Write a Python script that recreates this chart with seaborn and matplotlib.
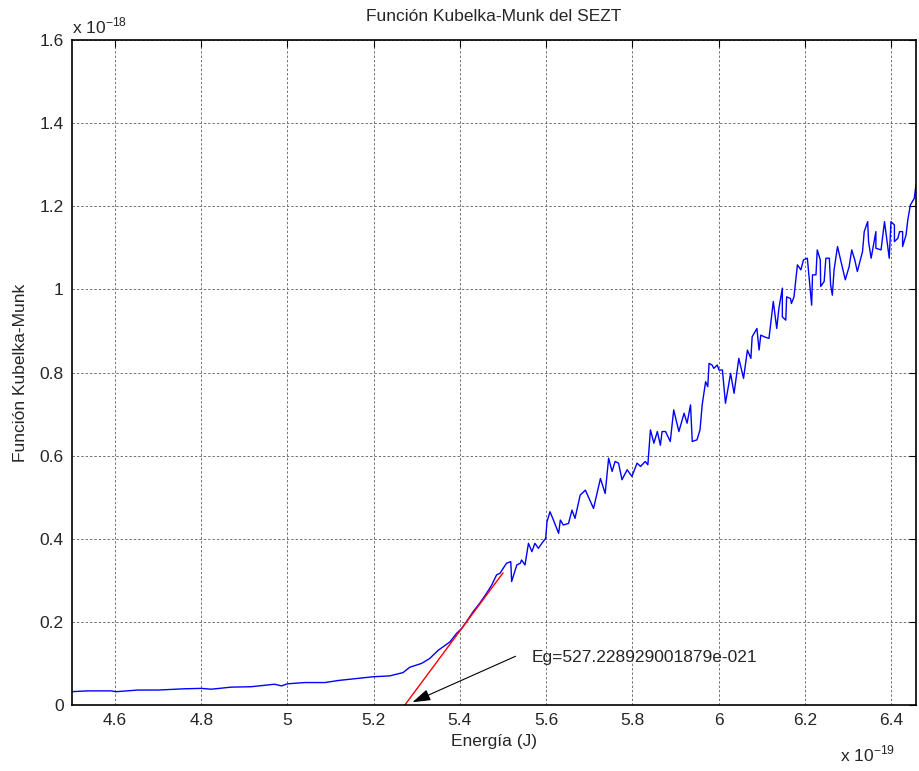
import numpy as np
import pandas as pd
import seaborn as sns
import matplotlib.pyplot as plt
from matplotlib.ticker import FuncFormatter

# energy in units of 1e-19 J, Kubelka-Munk in units of 1e-18
energia = [4.498, 4.537, 4.591, 4.602, 4.653, 4.700, 4.761, 4.800, 4.823, 4.870,
           4.916, 4.970, 4.986, 5.000, 5.040, 5.087, 5.118, 5.164, 5.199, 5.237,
           5.268, 5.284, 5.311, 5.330, 5.350, 5.361, 5.377, 5.392, 5.404, 5.415,
           5.431, 5.446, 5.462, 5.474, 5.485, 5.493, 5.508, 5.518, 5.520, 5.532,
           5.540, 5.543, 5.551, 5.559, 5.567, 5.574, 5.582, 5.590, 5.599, 5.602,
           5.609, 5.617, 5.629, 5.633, 5.640, 5.652, 5.660, 5.667, 5.679, 5.691,
           5.698, 5.710, 5.726, 5.737, 5.745, 5.753, 5.760, 5.768, 5.776, 5.788,
           5.799, 5.811, 5.819, 5.830, 5.836, 5.842, 5.850, 5.858, 5.865, 5.869,
           5.877, 5.888, 5.896, 5.908, 5.920, 5.927, 5.935, 5.939, 5.950, 5.957,
           5.962, 5.970, 5.975, 5.978, 5.985, 5.989, 5.997, 6.001, 6.009, 6.016,
           6.028, 6.036, 6.047, 6.058, 6.067, 6.075, 6.078, 6.089, 6.094, 6.098,
           6.106, 6.117, 6.127, 6.135, 6.140, 6.148, 6.148, 6.156, 6.158, 6.167,
           6.169, 6.175, 6.183, 6.191, 6.197, 6.206, 6.216, 6.218, 6.226, 6.229,
           6.236, 6.237, 6.245, 6.249, 6.257, 6.260, 6.264, 6.268, 6.276, 6.284,
           6.294, 6.303, 6.309, 6.316, 6.322, 6.334, 6.338, 6.346, 6.348, 6.354,
           6.365, 6.365, 6.377, 6.385, 6.396, 6.400, 6.408, 6.408, 6.416, 6.420,
           6.427, 6.427, 6.435, 6.439, 6.445, 6.454, 6.458]
km = [0.032, 0.034, 0.034, 0.032, 0.036, 0.036, 0.039, 0.040, 0.038, 0.043,
      0.044, 0.050, 0.046, 0.051, 0.054, 0.054, 0.059, 0.064, 0.068, 0.070,
      0.078, 0.091, 0.100, 0.112, 0.132, 0.140, 0.152, 0.172, 0.184, 0.200,
      0.225, 0.245, 0.269, 0.289, 0.313, 0.317, 0.341, 0.345, 0.297, 0.337,
      0.341, 0.349, 0.337, 0.389, 0.369, 0.389, 0.377, 0.389, 0.401, 0.441,
      0.465, 0.445, 0.413, 0.445, 0.433, 0.437, 0.469, 0.449, 0.505, 0.517,
      0.501, 0.473, 0.545, 0.509, 0.594, 0.562, 0.586, 0.582, 0.542, 0.566,
      0.550, 0.582, 0.574, 0.586, 0.578, 0.662, 0.630, 0.658, 0.625, 0.658,
      0.658, 0.634, 0.710, 0.658, 0.702, 0.678, 0.722, 0.634, 0.638, 0.662,
      0.722, 0.778, 0.766, 0.822, 0.818, 0.810, 0.818, 0.806, 0.806, 0.726,
      0.798, 0.750, 0.834, 0.786, 0.854, 0.834, 0.886, 0.906, 0.854, 0.890,
      0.886, 0.882, 0.971, 0.906, 0.954, 1.003, 0.934, 0.926, 0.982, 0.978,
      0.966, 0.982, 1.059, 1.047, 1.071, 1.075, 0.962, 1.035, 1.035, 1.095,
      1.071, 1.007, 1.019, 1.075, 1.075, 1.011, 0.986, 1.047, 1.103, 1.067,
      1.023, 1.055, 1.095, 1.071, 1.043, 1.091, 1.139, 1.163, 1.115, 1.075,
      1.139, 1.099, 1.095, 1.163, 1.075, 1.163, 1.155, 1.115, 1.123, 1.139,
      1.139, 1.103, 1.131, 1.167, 1.203, 1.219, 1.251]

# linear fit used for the band gap
ajuste_x = [5.2723, 5.50]
ajuste_y = [0.0, 0.318]
eg_label = 'Eg=527.228929001879e-021'

sns.set_style('white')
plt.rcParams['font.family'] = ['Liberation Sans', 'DejaVu Sans']
plt.rcParams['mathtext.fontset'] = 'custom'
plt.rcParams['mathtext.rm'] = 'Liberation Sans'
fs = 12.5

fig = plt.figure(figsize=(9.19, 7.71), dpi=100)
ax = fig.add_axes([0.0783, 0.0856, 0.9184, 0.8625])

df = pd.DataFrame({'E': energia, 'F': km})
sns.lineplot(data=df, x='E', y='F', sort=False, estimator=None, color='b', lw=1, ax=ax)
sns.lineplot(x=ajuste_x, y=ajuste_y, sort=False, estimator=None, color='r', lw=1, ax=ax)

ax.set_xlim(4.5, 6.458)
ax.set_ylim(0, 1.6)
ax.set_xticks([4.6, 4.8, 5.0, 5.2, 5.4, 5.6, 5.8, 6.0, 6.2, 6.4])
ax.set_yticks([0, 0.2, 0.4, 0.6, 0.8, 1.0, 1.2, 1.4, 1.6])
fmt = FuncFormatter(lambda v, p: '%g' % round(v, 4))
ax.xaxis.set_major_formatter(fmt)
ax.yaxis.set_major_formatter(fmt)
ax.tick_params(direction='in', length=5, width=0.8, top=True, right=True,
               labelsize=fs, color='black', pad=6)
ax.grid(True, color='0.45', linestyle=(0, (2.5, 2)), lw=0.7)
for s in ax.spines.values():
    s.set_color('black')
    s.set_linewidth(1.2)

ax.set_title('Función Kubelka-Munk del SEZT', fontsize=fs, pad=14)
ax.set_xlabel('Energía (J)', fontsize=fs, labelpad=4)
ax.set_ylabel('Función Kubelka-Munk', fontsize=fs, labelpad=8)

ax.text(0.0, 1.006, r'x 10$^{-18}$', transform=ax.transAxes, fontsize=fs,
        ha='left', va='bottom')
ax.text(0.975, -0.058, r'x 10$^{-19}$', transform=ax.transAxes, fontsize=fs,
        ha='right', va='top')

ax.annotate('', xy=(5.284, 0.004), xytext=(5.535, 0.12),
            arrowprops=dict(arrowstyle='-|>,head_length=1.1,head_width=0.35',
                            color='black', lw=0.8))
ax.text(5.567, 0.115, eg_label, fontsize=fs, ha='left', va='center')

fig.savefig('out.png', dpi=100)
